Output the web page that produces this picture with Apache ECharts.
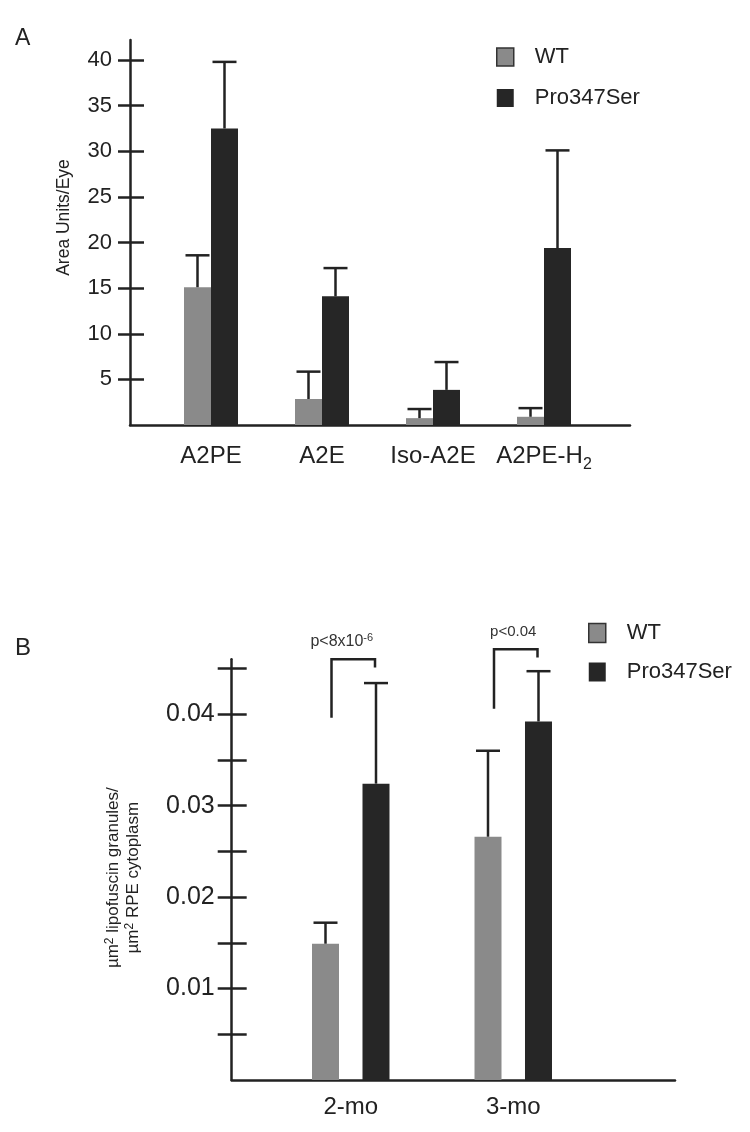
<!DOCTYPE html>
<html>
<head>
<meta charset="utf-8">
<script src="https://cdn.jsdelivr.net/npm/echarts@6/dist/echarts.min.js"></script>
<style>html,body{margin:0;padding:0;background:#fff}#c{width:750px;height:1132px}</style>
</head>
<body>
<div id="c"></div>
<script>
// ---------- Panel A data ----------
var catsA = ['A2PE', 'A2E', 'Iso-A2E', 'A2PE-H2'];
var wtA = [15.1, 2.85, 0.75, 0.9];
var wtAErr = [18.6, 5.85, 1.75, 1.85];
var proA = [32.5, 14.1, 3.85, 19.4];
var proAErr = [39.8, 17.2, 6.9, 30.1];
var ticksA = [5, 10, 15, 20, 25, 30, 35, 40];
var maxA = 42.2;

// ---------- Panel B data ----------
var catsB = ['2-mo', '3-mo'];
var wtB = [0.0149, 0.0266];
var wtBErr = [0.0172, 0.0360];
var proB = [0.0324, 0.0392];
var proBErr = [0.0434, 0.0447];
var ticksB = [0.005, 0.01, 0.015, 0.02, 0.025, 0.03, 0.035, 0.04, 0.045];
var labelsB = [0.01, 0.02, 0.03, 0.04];
var maxB = 0.046;
// significance brackets: [category, left leg bottom, top, right leg bottom, text level]
var bracketsB = [[0, 0.0396, 0.0460, 0.0451, 0.0479], [1, 0.0406, 0.0471, 0.0462, 0.0490]];
var pTexts = ['p<8x10{sup|-6}', 'p<0.04'];

var FONT = 'Liberation Sans, Arial, Helvetica, sans-serif';
var INK = '#222';
var GRAY = '#8a8a8a';
var DARK = '#262626';

function errSeries(name, data, errs, xi, yi, offset) {
  return {
    name: name, type: 'custom', xAxisIndex: xi, yAxisIndex: yi, z: 5, clip: false,
    data: data.map(function (v, i) { return [i, v, errs[i]]; }),
    renderItem: function (params, api) {
      var b = api.coord([api.value(0), api.value(1)]);
      var t = api.coord([api.value(0), api.value(2)]);
      var x = b[0] + offset;
      var st = { stroke: INK, lineWidth: 2.5 };
      return { type: 'group', children: [
        { type: 'line', shape: { x1: x, y1: b[1], x2: x, y2: t[1] }, style: st },
        { type: 'line', shape: { x1: x - 12, y1: t[1], x2: x + 12, y2: t[1] }, style: st }
      ]};
    }
  };
}

var axisLineStyle = { color: INK, width: 2.5 };

var option = {
  animation: false,
  textStyle: { fontFamily: FONT, color: INK },
  graphic: [
    { type: 'text', left: 15, top: 27, style: { text: 'A', fontSize: 23, fontFamily: FONT, fill: INK } },
    { type: 'text', left: 15, top: 636, style: { text: 'B', fontSize: 24, fontFamily: FONT, fill: INK } }
  ],
  legend: [
    { left: 496, top: 46, padding: 0, orient: 'vertical', icon: 'rect', itemWidth: 17, itemHeight: 18, itemGap: 19, selectedMode: false,
      data: [{ name: 'WT', itemStyle: { borderColor: '#333', borderWidth: 1.5 } }, { name: 'Pro347Ser' }],
      textStyle: { fontSize: 22, color: INK, padding: [0, 0, 0, 16] } },
    { left: 588, top: 622, padding: 0, orient: 'vertical', icon: 'rect', itemWidth: 17, itemHeight: 19, itemGap: 17, selectedMode: false,
      data: [{ name: 'WT', itemStyle: { borderColor: '#333', borderWidth: 1.5 } }, { name: 'Pro347Ser' }],
      textStyle: { fontSize: 22, color: INK, padding: [0, 0, 0, 16] } }
  ],
  grid: [
    { left: 130, top: 40, width: 500, height: 385 },
    { left: 155.5, top: 40, width: 444, height: 385 },
    { left: 231.7, top: 659.3, width: 443.3, height: 420.7 },
    { left: 269.5, top: 659.3, width: 325, height: 420.7 }
  ],
  xAxis: [
    { gridIndex: 0, type: 'value', min: 0, max: 1, axisLine: { show: true, lineStyle: axisLineStyle }, axisTick: { show: false }, axisLabel: { show: false }, splitLine: { show: false } },
    { gridIndex: 1, type: 'category', data: catsA, axisLine: { show: false }, axisTick: { show: false },
      axisLabel: { fontSize: 24, color: INK, margin: 14, lineHeight: 34, interval: 0,
        formatter: function (v) { return v === 'A2PE-H2' ? 'A2PE-H{sub|2}' : v; },
        rich: { sub: { fontSize: 16, color: INK, verticalAlign: 'bottom', lineHeight: 34 } } } },
    { gridIndex: 2, type: 'value', min: 0, max: 1, axisLine: { show: true, lineStyle: axisLineStyle }, axisTick: { show: false }, axisLabel: { show: false }, splitLine: { show: false } },
    { gridIndex: 3, type: 'category', data: catsB, axisLine: { show: false }, axisTick: { show: false },
      axisLabel: { fontSize: 24, color: INK, margin: 15, interval: 0 } }
  ],
  yAxis: [
    { gridIndex: 0, position: 'left', type: 'value', min: 0, max: maxA, splitLine: { show: false },
      axisLine: { show: true, lineStyle: axisLineStyle },
      axisTick: { show: true, length: 12, lineStyle: axisLineStyle, customValues: ticksA },
      axisLabel: { fontSize: 22, color: INK, margin: 18, customValues: ticksA },
      name: 'Area Units/Eye', nameLocation: 'middle', nameGap: 57,
      nameTextStyle: { fontSize: 17.5, color: INK, padding: [0, 0, 0, 30] } },
    { gridIndex: 0, position: 'left', offset: 0, type: 'value', min: 0, max: maxA, splitLine: { show: false }, axisLine: { show: false },
      axisTick: { show: true, inside: true, length: 14, lineStyle: axisLineStyle, customValues: ticksA },
      axisLabel: { show: false } },
    { gridIndex: 1, type: 'value', min: 0, max: maxA, show: false },
    { gridIndex: 2, position: 'left', type: 'value', min: 0, max: maxB, splitLine: { show: false },
      axisLine: { show: true, lineStyle: axisLineStyle },
      axisTick: { show: true, length: 14, lineStyle: axisLineStyle, customValues: ticksB },
      axisLabel: { fontSize: 25, color: INK, margin: 17, customValues: labelsB, formatter: function (v) { return v.toFixed(2); } },
      name: 'µm{sup|2} lipofuscin granules/\nµm{sup|2} RPE cytoplasm', nameLocation: 'middle', nameGap: 88,
      nameTextStyle: { fontSize: 17, color: INK, lineHeight: 20, padding: [0, 16, 0, 0],
        rich: { sup: { fontSize: 12, color: INK, verticalAlign: 'top', lineHeight: 20 } } } },
    { gridIndex: 2, position: 'left', offset: 0, type: 'value', min: 0, max: maxB, splitLine: { show: false }, axisLine: { show: false },
      axisTick: { show: true, inside: true, length: 15, lineStyle: axisLineStyle, customValues: ticksB },
      axisLabel: { show: false } },
    { gridIndex: 3, type: 'value', min: 0, max: maxB, show: false }
  ],
  series: [
    { name: 'WT', type: 'bar', xAxisIndex: 1, yAxisIndex: 2, data: wtA, barWidth: 27, barGap: '0%', itemStyle: { color: GRAY } },
    { name: 'Pro347Ser', type: 'bar', xAxisIndex: 1, yAxisIndex: 2, data: proA, barWidth: 27, barGap: '0%', itemStyle: { color: DARK } },
    errSeries('WT error A', wtA, wtAErr, 1, 2, -13.5),
    errSeries('Pro error A', proA, proAErr, 1, 2, 13.5),
    { name: 'WT', type: 'bar', xAxisIndex: 3, yAxisIndex: 5, data: wtB, barWidth: 27, barGap: '87%', itemStyle: { color: GRAY } },
    { name: 'Pro347Ser', type: 'bar', xAxisIndex: 3, yAxisIndex: 5, data: proB, barWidth: 27, barGap: '87%', itemStyle: { color: DARK } },
    errSeries('WT error B', wtB, wtBErr, 3, 5, -25.25),
    errSeries('Pro error B', proB, proBErr, 3, 5, 25.25),
    { name: 'significance', type: 'custom', xAxisIndex: 3, yAxisIndex: 5, z: 6, clip: false,
      data: bracketsB,
      renderItem: function (params, api) {
        var i = api.value(0);
        var c = api.coord([i, api.value(2)]);
        var xl = c[0] - 25.25 + 6, xr = c[0] + 25.25 - 1;
        var yl = api.coord([i, api.value(1)])[1];
        var yt = c[1];
        var yr = api.coord([i, api.value(3)])[1];
        var ty = api.coord([i, api.value(4)])[1];
        var tx = c[0] + (i === 0 ? -9 : 0);
        return { type: 'group', children: [
          { type: 'polyline', shape: { points: [[xl, yl], [xl, yt], [xr, yt], [xr, yr]] }, style: { stroke: INK, lineWidth: 2.5, fill: null } },
          { type: 'text', style: { text: pTexts[params.dataIndex], x: tx, y: ty, align: 'center', verticalAlign: 'middle',
              fontSize: i === 0 ? 16 : 15, fontFamily: FONT, fill: '#333', lineHeight: 18,
              rich: { sup: { fontSize: 11, fontFamily: FONT, fill: '#333', verticalAlign: 'top', lineHeight: 18 } } } }
        ]};
      }
    }
  ]
};

var chart = echarts.init(document.getElementById('c'), null, { renderer: 'canvas' });
chart.setOption(option);
</script>
</body>
</html>
